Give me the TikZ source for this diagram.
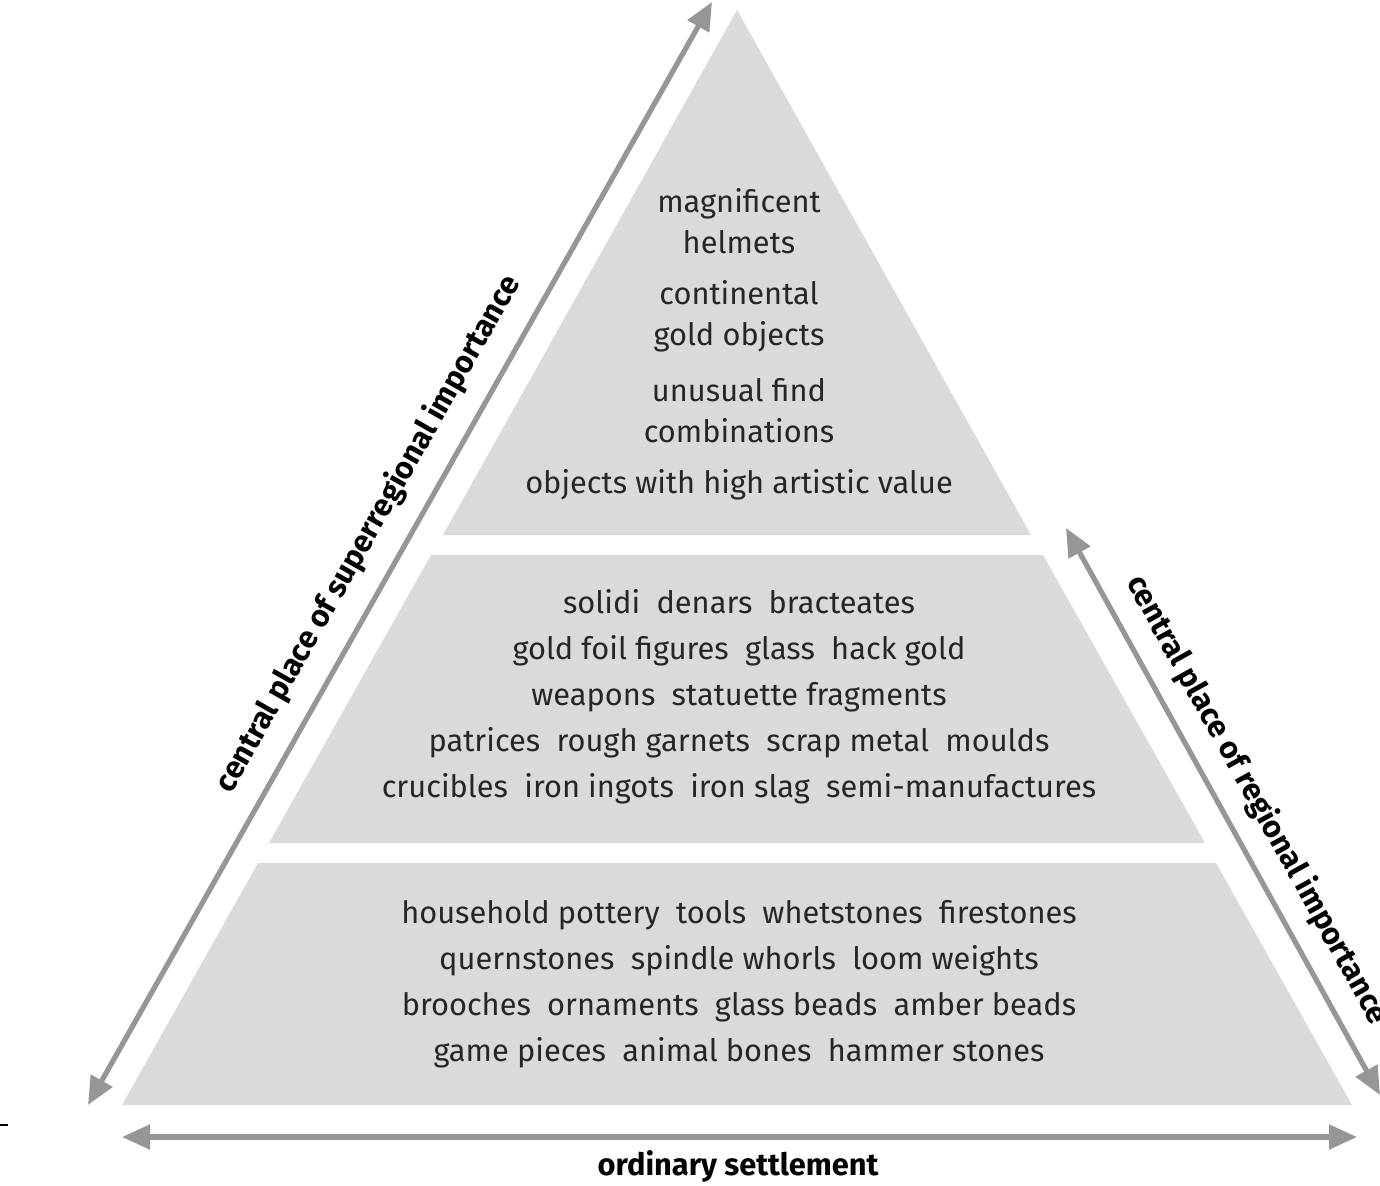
\documentclass[tikz,border=0pt]{standalone}
\usepackage{fontspec}
\setmainfont{Fira Sans}
\usetikzlibrary{arrows.meta}
\definecolor{band}{RGB}{218,218,219}
\definecolor{arr}{RGB}{150,150,152}
\begin{document}
\begin{tikzpicture}[x=0.5pt,y=-0.5pt,
  band/.style={fill=band,draw=none},
  dbl/.style={draw=arr,line width=2.6pt,{Triangle[length=14pt,width=12pt]}-{Triangle[length=14pt,width=12pt]}},
  txt/.style={font=\fontsize{15.4}{20.5}\selectfont,align=center,text=black!85},
  lbl/.style={font=\fontsize{15.4}{17}\selectfont\bfseries,text=black}]
\useasboundingbox (0,0) rectangle (1380,1185);
\fill[band] (737,10) -- (1031,535) -- (443,535) -- cycle;
\fill[band] (431,555) -- (1043,555) -- (1205,843) -- (269,843) -- cycle;
\fill[band] (258,863) -- (1216,863) -- (1352,1105) -- (122,1105) -- cycle;
\node[txt] (t1) at (739,221) {magnificent\\helmets};
\node[txt] (t2) at (739,316) {continental\\gold objects};
\node[txt] (t3) at (739,411) {unusual find\\combinations};
\node[txt] (t4) at (739,485) {objects with high artistic value};
\node[txt,font=\fontsize{15.4}{23}\selectfont] (m) at (739,697) {solidi\ \ denars\ \ bracteates\\gold foil figures\ \ glass\ \ hack gold\\weapons\ \ statuette fragments\\patrices\ \ rough garnets\ \ scrap metal\ \ moulds\\crucibles\ \ iron ingots\ \ iron slag\ \ semi-manufactures};
\node[txt,font=\fontsize{15.4}{23}\selectfont] (b) at (739,984) {household pottery\ \ tools\ \ whetstones\ \ firestones\\quernstones\ \ spindle whorls\ \ loom weights\\brooches\ \ ornaments\ \ glass beads\ \ amber beads\\game pieces\ \ animal bones\ \ hammer stones};
\coordinate (la) at (88,1105);
\coordinate (lb) at (712,2);
\coordinate (ra) at (1066,528);
\coordinate (rb) at (1380,1095);
\coordinate (ba) at (122,1137);
\coordinate (bb) at (1357,1137);
\draw[dbl] (la) -- (lb);
\draw[dbl] (ra) -- (rb);
\draw[dbl] (ba) -- (bb);
\node[lbl,rotate=60.5] (ls) at (368,534) {central place of superregional importance};
\node[lbl,rotate=-61] (rs) at (1257,800) {central place of regional importance};
\node[lbl] (os) at (738,1166) {ordinary settlement};
\draw[black,line width=0.6pt] (0,1125) -- (8,1125);
\end{tikzpicture}
\end{document}
